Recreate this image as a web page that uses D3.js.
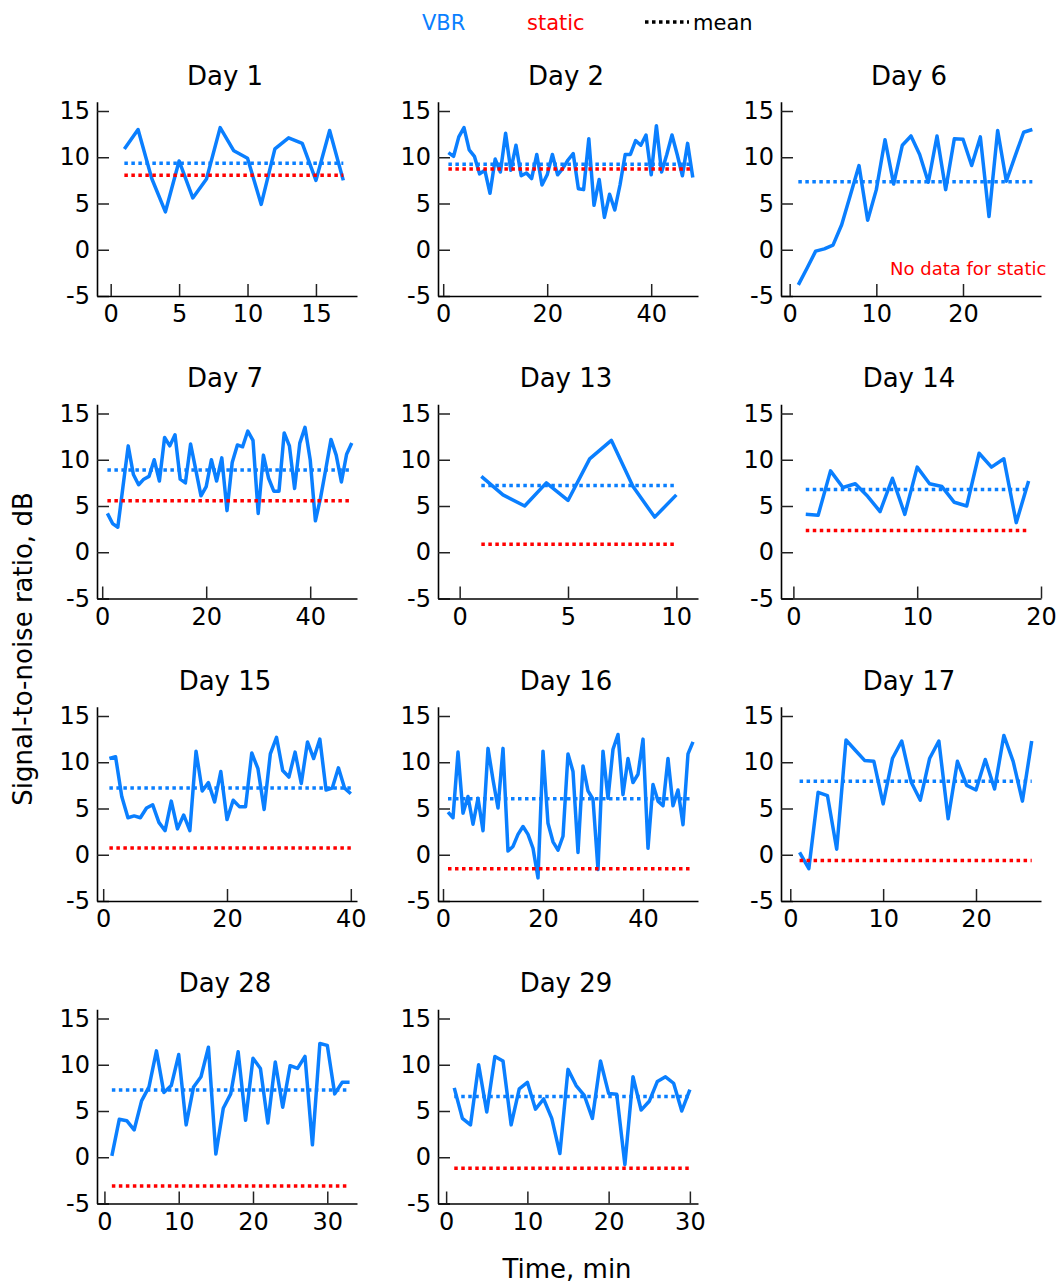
<!DOCTYPE html>
<html>
<head>
<meta charset="utf-8">
<script src="https://cdn.jsdelivr.net/npm/d3@7"></script>
<style>
  body { margin: 0; background: #fff; }
  svg { font-family: "DejaVu Sans", sans-serif; }
</style>
</head>
<body>
<svg id="chart" width="1060" height="1285"></svg>
<script>
// Session titles, in panel order (row by row)
const days = ["Day 1", "Day 2", "Day 6", "Day 7", "Day 13", "Day 14",
              "Day 15", "Day 16", "Day 17", "Day 28", "Day 29"];

// VBR signal-to-noise ratio (dB), one value per minute
const vbrDay1 = [10.9, 13.0, 7.7, 4.1, 9.6, 5.6, 7.65, 13.2, 10.7, 9.9, 4.9, 10.9, 12.1, 11.5, 7.5, 12.9, 7.5];
const vbrDay2 = [10.5, 10.1, 12.2, 13.2, 10.8, 10.1, 8.2, 8.6, 6.1, 9.8, 8.4, 12.6, 8.6, 11.3, 8.0, 8.3,
                 7.7, 10.3, 7.0, 8.1, 10.3, 8.1, 8.8, 9.7, 10.4, 6.6, 6.5, 12.0, 4.8, 7.6, 3.5, 6.0,
                 4.3, 7.0, 10.3, 10.3, 11.8, 11.3, 12.4, 8.1, 13.4, 8.4, 10.3, 12.4, 10.3, 8.0, 11.5, 7.8];
const vbrDay6 = [-3.8, -2.0, -0.15, 0.1, 0.5, 2.7, 5.9, 9.1, 3.2, 6.5, 11.9, 7.1, 11.3, 12.3,
                 10.3, 7.3, 12.3, 6.5, 12.0, 11.95, 9.1, 12.2, 3.6, 12.9, 7.4, 10.1, 12.7, 13.0];
const vbrDay7 = [4.2, 3.1, 2.7, 7.1, 11.5, 8.4, 7.3, 7.9, 8.2, 10.0, 7.7, 12.4, 11.5, 12.7, 7.9, 7.5,
                 11.7, 8.9, 6.1, 7.1, 10.0, 7.7, 10.2, 4.5, 9.7, 11.6, 11.4, 13.1, 12.1, 4.2, 10.5, 8.0,
                 6.6, 6.6, 12.9, 11.5, 6.9, 11.8, 13.5, 10.0, 3.4, 5.9, 9.0, 12.2, 10.5, 7.6, 10.6, 11.8];
const vbrDay13 = [8.2, 6.2, 5.0, 7.5, 5.6, 10.1, 12.1, 7.1, 3.8, 6.2];
const vbrDay14 = [4.1, 4.0, 8.8, 7.0, 7.4, 6.05, 4.4, 8.0, 4.1, 9.2, 7.4, 7.1, 5.4, 5.0, 10.7, 9.2, 10.1, 3.2, 7.7];
const vbrDay15 = [10.4, 10.6, 6.3, 4.0, 4.2, 4.0, 5.05, 5.4, 3.5, 2.6, 5.8, 2.8, 4.3, 2.6, 11.2, 6.9,
                  7.8, 5.7, 9.0, 3.8, 5.9, 5.2, 5.2, 11.0, 9.3, 4.9, 10.9, 12.7, 9.1, 8.4, 11.1, 7.7,
                  12.2, 10.4, 12.5, 7.0, 7.2, 9.4, 7.2, 6.6];
const vbrDay16 = [4.6, 4.0, 11.1, 4.5, 6.3, 3.3, 6.1, 2.6, 11.5, 8.1, 5.05, 11.5, 0.4, 0.9, 2.2, 3.05,
                  2.2, 0.7, -2.5, 11.2, 3.4, 1.4, 0.5, 2.0, 10.9, 9.0, 0.25, 9.6, 6.9, 6.0, -1.6, 11.2,
                  6.1, 11.4, 13.0, 6.5, 10.4, 7.8, 8.7, 12.5, 0.7, 7.6, 5.8, 5.3, 10.4, 5.3, 7.0, 3.25,
                  10.9, 12.2];
const vbrDay17 = [0.25, -1.5, 6.75, 6.4, 0.6, 12.4, 11.3, 10.2, 10.1, 5.5, 10.4, 12.3, 7.9, 5.9,
                  10.4, 12.3, 3.9, 10.1, 7.5, 7.0, 10.3, 7.1, 12.9, 10.1, 5.8, 12.3];
const vbrDay28 = [0.15, 4.1, 3.95, 2.95, 6.1, 7.6, 11.5, 7.0, 7.75, 11.1, 3.5, 7.6, 8.7, 11.9, 0.35,
                  5.3, 6.85, 11.4, 4.0, 10.7, 9.6, 3.7, 10.3, 5.4, 9.9, 9.6, 10.9, 1.35, 12.3, 12.1,
                  6.85, 8.1, 8.1];
const vbrDay29 = [7.5, 4.2, 3.5, 10.0, 4.9, 10.9, 10.4, 3.5, 7.4, 8.1, 5.2, 6.3, 4.2, 0.4, 9.5,
                  7.75, 6.7, 4.2, 10.4, 6.9, 6.8, -0.8, 8.7, 5.1, 6.05, 8.2, 8.7, 8.0, 5.0, 7.3];

const vbrSeries = [vbrDay1, vbrDay2, vbrDay6, vbrDay7, vbrDay13, vbrDay14,
                   vbrDay15, vbrDay16, vbrDay17, vbrDay28, vbrDay29];

// Session means (dB); static has no record for Day 6
const vbrMean    = [9.35, 9.24, 7.36, 8.88, 7.21, 6.78, 7.22, 6.06, 7.94, 7.28, 6.56];
const staticMean = [8.05, 8.74, null, 5.58, 0.87, 2.36, 0.72, -1.52, -0.61, -3.12, -1.2];

// Tick values
const xTicks = [[0, 5, 10, 15], [0, 20, 40], [0, 10, 20], [0, 20, 40], [0, 5, 10], [0, 10, 20],
                [0, 20, 40], [0, 20, 40], [0, 10, 20], [0, 10, 20, 30], [0, 10, 20, 30]];
const yTicks = [-5, 0, 5, 10, 15];
const yTickLabels = ["-5", "0", "5", "10", "15"];

// Styling and grid layout
const BLUE = "#0a7fff", RED = "#ff0000";
const colLeft = [97, 438, 781];
const rowBottom = [296, 598.5, 901, 1203.5];
const W = 260, H = 194.25;
const LINE_W = 3.5;
const DOTS = "3.5,3.5";

const svg = d3.select("#chart");

days.forEach((day, i) => {
  const row = Math.floor(i / 3), col = i % 3;
  const data = vbrSeries[i];
  const n = data.length;
  const left = colLeft[col], bottom = rowBottom[row];

  const x = d3.scaleLinear().domain([-1, n + 1]).range([left, left + W]);
  const y = d3.scaleLinear().domain([-5, 16]).range([bottom, bottom - H]);

  const g = svg.append("g");

  // y axis, ticks pointing into the plot
  const ya = g.append("g")
    .attr("transform", `translate(${left},0)`)
    .call(d3.axisLeft(y).tickValues(yTicks)
      .tickFormat((d, k) => yTickLabels[k])
      .tickSizeInner(-12).tickSizeOuter(0).tickPadding(7));

  // x axis
  const xa = g.append("g")
    .attr("transform", `translate(0,${bottom})`)
    .call(d3.axisBottom(x).tickValues(xTicks[i])
      .tickFormat(d3.format("d"))
      .tickSizeInner(-12).tickSizeOuter(0).tickPadding(9));

  [ya, xa].forEach(a => {
    a.attr("font-family", null).attr("font-size", null);
    a.select(".domain").attr("stroke", "#000").attr("stroke-width", 1.6);
    a.selectAll(".tick line").attr("stroke", "#222").attr("stroke-width", 1.5);
    a.selectAll(".tick text").attr("fill", "#000").style("font-size", "24px");
  });

  // title
  g.append("text")
    .attr("x", left + W / 2 - 2)
    .attr("y", bottom - H - 17)
    .attr("text-anchor", "middle")
    .style("font-size", "26px")
    .text(day);

  // VBR trace
  const line = d3.line().x((d, k) => x(k + 1)).y(d => y(d));
  g.append("path")
    .datum(data)
    .attr("fill", "none")
    .attr("stroke", BLUE)
    .attr("stroke-width", LINE_W)
    .attr("stroke-linejoin", "round")
    .attr("d", line);

  // mean lines over the session span
  const span = [1, n];
  const meanLine = v => d3.line().x(d => x(d)).y(() => y(v))(span);
  g.append("path")
    .attr("fill", "none")
    .attr("stroke", BLUE)
    .attr("stroke-width", LINE_W)
    .attr("stroke-dasharray", DOTS)
    .attr("d", meanLine(vbrMean[i]));

  if (staticMean[i] !== null) {
    g.append("path")
      .attr("fill", "none")
      .attr("stroke", RED)
      .attr("stroke-width", LINE_W)
      .attr("stroke-dasharray", DOTS)
      .attr("d", meanLine(staticMean[i]));
  } else {
    g.append("text")
      .attr("x", left + 109)
      .attr("y", bottom - 21)
      .attr("fill", RED)
      .style("font-size", "18px")
      .text("No data for static");
  }
});

// shared axis labels
svg.append("text")
  .attr("transform", "translate(32,649) rotate(-90)")
  .attr("text-anchor", "middle")
  .style("font-size", "26px")
  .text("Signal-to-noise ratio, dB");

svg.append("text")
  .attr("x", 567)
  .attr("y", 1278)
  .attr("text-anchor", "middle")
  .style("font-size", "26px")
  .text("Time, min");

// legend
const legend = svg.append("g");
legend.append("text").attr("x", 422).attr("y", 30).attr("fill", BLUE)
  .style("font-size", "21px").text("VBR");
legend.append("text").attr("x", 527).attr("y", 30).attr("fill", RED)
  .style("font-size", "21px").text("static");
legend.append("line").attr("x1", 645).attr("x2", 689).attr("y1", 22).attr("y2", 22)
  .attr("stroke", "#000").attr("stroke-width", LINE_W).attr("stroke-dasharray", DOTS);
legend.append("text").attr("x", 693).attr("y", 30).attr("fill", "#000")
  .style("font-size", "21px").text("mean");
</script>
</body>
</html>
